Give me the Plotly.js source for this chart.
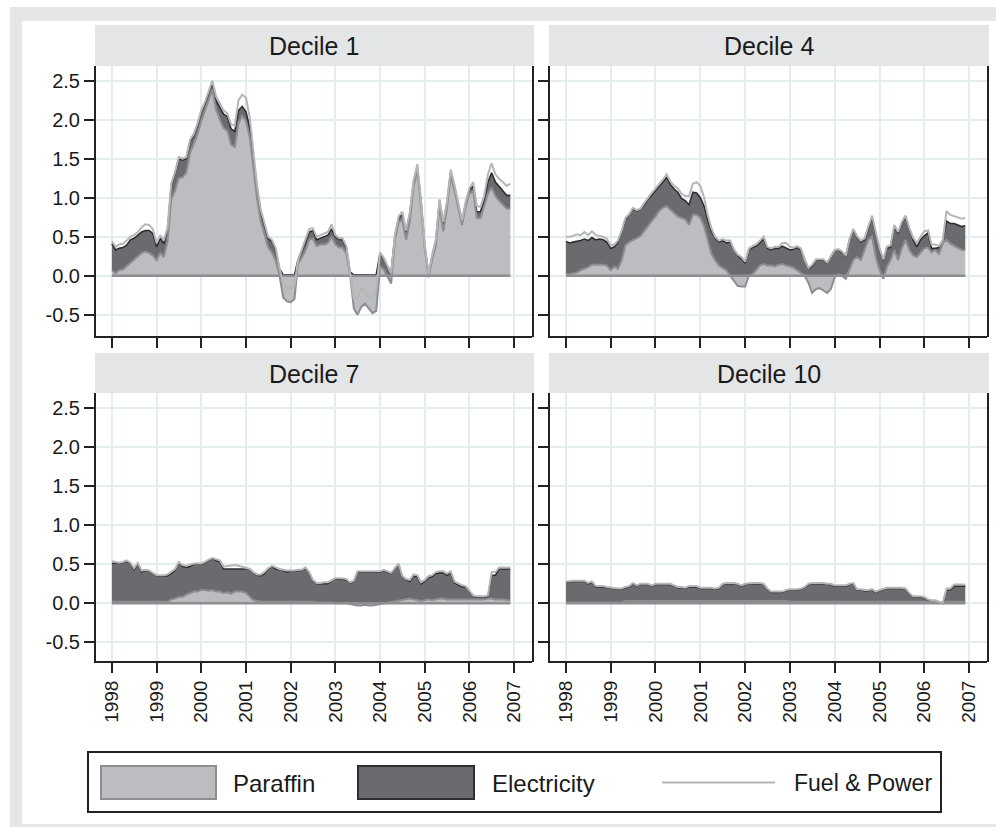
<!DOCTYPE html>
<html>
<head>
<meta charset="utf-8">
<script src="https://cdn.plot.ly/plotly-3.0.1.min.js"></script>
<style>html,body{margin:0;padding:0;background:#fff;}#chart{width:996px;height:827px;}</style>
</head>
<body>
<div id="chart"></div>
<script>
// ---------------- DATA (monthly, Jan 1998 - Dec 2006) ----------------
const START_YEAR = 1998;
const N_MONTHS = 108;
const panelTitles = ["Decile 1", "Decile 4", "Decile 7", "Decile 10"];
const yearTicks = ["1998","1999","2000","2001","2002","2003","2004","2005","2006","2007"];
const yTickVals = [-0.5, 0, 0.5, 1, 1.5, 2, 2.5];
const yTickText = ["-0.5","0.0","0.5","1.0","1.5","2.0","2.5"];
const seriesNames = ["Paraffin", "Electricity", "Fuel & Power"];

const paraffinD1 = [0.07,0.03,0.07,0.08,0.12,0.16,0.20,0.24,0.29,0.31,0.29,0.26,
 0.20,0.29,0.24,0.44,0.98,1.09,1.25,1.26,1.32,1.57,1.68,1.81,
 1.98,2.11,2.25,2.39,2.13,2.00,1.89,1.86,1.68,1.65,1.96,2.05,
 1.98,1.77,1.37,0.99,0.70,0.53,0.36,0.30,0.19,0.01,-0.28,-0.33,
 -0.34,-0.30,0.15,0.23,0.32,0.46,0.48,0.38,0.40,0.40,0.42,0.50,
 0.40,0.36,0.36,0.28,0.02,-0.42,-0.50,-0.40,-0.36,-0.42,-0.48,-0.45,
 0.12,0.08,0.00,-0.10,0.45,0.68,0.72,0.46,0.70,1.14,1.35,0.90,
 0.34,-0.02,0.20,0.39,0.88,0.57,0.87,1.28,1.09,0.89,0.65,0.89,
 1.05,1.09,0.74,0.74,0.89,1.05,1.13,1.02,0.96,0.91,0.86,0.86];
const electricityD1 = [0.34,0.30,0.28,0.28,0.27,0.30,0.28,0.28,0.27,0.27,0.29,0.28,
 0.17,0.19,0.17,0.15,0.18,0.22,0.25,0.22,0.18,0.15,0.12,0.12,
 0.12,0.10,0.09,0.08,0.12,0.15,0.18,0.18,0.20,0.20,0.16,0.12,
 0.12,0.12,0.13,0.13,0.12,0.12,0.12,0.14,0.14,0.08,0.01,0.01,
 0.01,0.01,0.05,0.08,0.10,0.10,0.10,0.08,0.08,0.10,0.10,0.10,
 0.10,0.10,0.10,0.08,0.03,0.01,0.01,0.01,0.01,0.01,0.01,0.01,
 0.17,0.14,0.12,0.05,0.05,0.06,0.08,0.10,0.10,0.06,0.05,0.05,
 0.04,0.02,0.04,0.06,0.08,0.10,0.06,0.05,0.05,0.04,0.04,0.04,
 0.05,0.06,0.08,0.08,0.08,0.15,0.19,0.18,0.18,0.17,0.17,0.17];
const fuelPowerD1 = [0.44,0.37,0.40,0.41,0.45,0.50,0.52,0.56,0.62,0.66,0.65,0.60,
 0.42,0.52,0.45,0.62,1.18,1.33,1.52,1.50,1.52,1.74,1.82,1.95,
 2.12,2.23,2.36,2.50,2.30,2.20,2.12,2.08,1.94,1.92,2.25,2.32,
 2.28,2.02,1.58,1.16,0.85,0.67,0.50,0.46,0.35,0.10,-0.10,-0.16,
 -0.17,-0.14,0.20,0.33,0.45,0.60,0.61,0.50,0.52,0.54,0.56,0.66,
 0.52,0.48,0.48,0.38,0.05,-0.30,-0.28,-0.16,-0.20,-0.28,-0.29,-0.20,
 0.30,0.23,0.13,0.03,0.52,0.76,0.82,0.58,0.82,1.22,1.43,0.97,
 0.40,0.02,0.26,0.47,0.98,0.69,0.95,1.36,1.16,0.95,0.71,0.95,
 1.12,1.20,0.90,0.88,1.02,1.30,1.44,1.30,1.24,1.20,1.15,1.18];

const paraffinD4 = [0.02,0.02,0.03,0.04,0.07,0.09,0.11,0.14,0.14,0.14,0.14,0.13,
 0.07,0.12,0.09,0.20,0.39,0.43,0.46,0.48,0.51,0.57,0.63,0.70,
 0.76,0.83,0.87,0.89,0.85,0.80,0.76,0.74,0.72,0.65,0.78,0.78,
 0.74,0.63,0.46,0.28,0.20,0.13,0.10,0.07,0.00,-0.07,-0.13,-0.14,
 -0.14,0.00,0.02,0.07,0.13,0.15,0.13,0.13,0.12,0.14,0.15,0.13,
 0.12,0.10,0.07,0.04,0.00,-0.09,-0.22,-0.17,-0.16,-0.19,-0.22,-0.17,
 -0.02,0.02,0.00,-0.04,0.09,0.20,0.24,0.20,0.33,0.46,0.50,0.24,
 0.07,-0.04,0.11,0.20,0.33,0.20,0.35,0.46,0.33,0.26,0.24,0.30,
 0.35,0.36,0.30,0.33,0.28,0.42,0.46,0.41,0.38,0.35,0.33,0.33];
const electricityD4 = [0.42,0.40,0.40,0.40,0.38,0.38,0.34,0.35,0.32,0.33,0.32,0.30,
 0.28,0.25,0.34,0.37,0.33,0.35,0.40,0.35,0.34,0.34,0.35,0.33,
 0.33,0.31,0.33,0.37,0.32,0.31,0.31,0.25,0.24,0.26,0.29,0.28,
 0.26,0.26,0.26,0.29,0.28,0.30,0.35,0.35,0.43,0.33,0.26,0.22,
 0.16,0.33,0.34,0.31,0.29,0.32,0.22,0.20,0.23,0.21,0.23,0.23,
 0.21,0.24,0.29,0.29,0.20,0.09,0.12,0.20,0.20,0.20,0.16,0.24,
 0.33,0.31,0.30,0.26,0.37,0.39,0.26,0.23,0.13,0.15,0.25,0.30,
 0.26,0.20,0.24,0.17,0.30,0.34,0.32,0.29,0.26,0.20,0.13,0.16,
 0.16,0.19,0.05,0.02,0.08,0.04,0.24,0.26,0.29,0.30,0.30,0.31];
const fuelPowerD4 = [0.50,0.50,0.51,0.53,0.52,0.56,0.52,0.57,0.52,0.51,0.50,0.47,
 0.39,0.40,0.45,0.58,0.74,0.79,0.87,0.84,0.86,0.93,1.00,1.06,
 1.12,1.17,1.23,1.30,1.21,1.15,1.12,1.05,1.02,1.02,1.18,1.20,
 1.15,1.00,0.78,0.61,0.50,0.45,0.47,0.45,0.45,0.34,0.27,0.24,
 0.18,0.35,0.38,0.40,0.45,0.50,0.37,0.35,0.37,0.37,0.42,0.42,
 0.37,0.36,0.38,0.35,0.21,0.10,0.14,0.21,0.21,0.21,0.17,0.25,
 0.33,0.34,0.31,0.26,0.47,0.60,0.51,0.45,0.48,0.63,0.77,0.56,
 0.35,0.21,0.37,0.39,0.65,0.56,0.69,0.77,0.61,0.49,0.42,0.50,
 0.57,0.58,0.40,0.40,0.38,0.46,0.83,0.78,0.76,0.75,0.73,0.74];

const paraffinD7 = [0.02,0.02,0.02,0.02,0.02,0.02,0.02,0.02,0.02,0.02,0.02,0.02,
 0.02,0.02,0.02,0.02,0.05,0.06,0.08,0.08,0.11,0.13,0.15,0.15,
 0.17,0.17,0.16,0.17,0.15,0.15,0.13,0.14,0.12,0.15,0.15,0.15,
 0.13,0.08,0.04,0.03,0.02,0.02,0.02,0.02,0.02,0.02,0.02,0.02,
 0.02,0.02,0.02,0.02,0.02,0.02,0.02,0.01,0.01,0.01,0.01,0.01,
 0.00,0.00,0.00,0.00,-0.01,-0.02,-0.03,-0.03,-0.02,-0.03,-0.03,-0.02,
 -0.01,0.00,0.01,0.02,0.03,0.04,0.04,0.05,0.06,0.05,0.04,0.03,
 0.04,0.05,0.04,0.05,0.06,0.06,0.05,0.05,0.05,0.05,0.05,0.05,
 0.05,0.05,0.05,0.05,0.05,0.06,0.06,0.05,0.05,0.05,0.04,0.04];
const electricityD7 = [0.49,0.50,0.49,0.50,0.52,0.49,0.41,0.49,0.38,0.40,0.39,0.36,
 0.33,0.33,0.33,0.33,0.33,0.36,0.44,0.39,0.35,0.34,0.35,0.35,
 0.33,0.35,0.39,0.40,0.40,0.38,0.31,0.30,0.32,0.29,0.29,0.29,
 0.31,0.35,0.35,0.33,0.33,0.36,0.42,0.45,0.42,0.41,0.40,0.38,
 0.39,0.39,0.40,0.40,0.43,0.37,0.27,0.24,0.24,0.24,0.24,0.28,
 0.31,0.31,0.31,0.30,0.26,0.28,0.40,0.40,0.40,0.40,0.40,0.40,
 0.40,0.42,0.39,0.36,0.41,0.46,0.30,0.25,0.22,0.30,0.30,0.22,
 0.24,0.28,0.30,0.33,0.33,0.33,0.31,0.34,0.21,0.18,0.16,0.16,
 0.10,0.04,0.03,0.03,0.03,0.02,0.30,0.31,0.39,0.39,0.40,0.40];
const fuelPowerD7 = [0.54,0.53,0.52,0.53,0.55,0.52,0.45,0.52,0.42,0.43,0.42,0.39,
 0.36,0.36,0.36,0.37,0.40,0.44,0.53,0.49,0.48,0.49,0.51,0.51,
 0.51,0.53,0.56,0.58,0.57,0.55,0.47,0.48,0.49,0.49,0.48,0.47,
 0.45,0.44,0.40,0.37,0.37,0.40,0.45,0.48,0.46,0.44,0.43,0.42,
 0.42,0.42,0.43,0.43,0.46,0.40,0.30,0.26,0.26,0.27,0.27,0.30,
 0.32,0.32,0.32,0.31,0.27,0.29,0.41,0.41,0.41,0.41,0.41,0.41,
 0.41,0.43,0.41,0.39,0.45,0.51,0.35,0.31,0.30,0.37,0.36,0.27,
 0.30,0.35,0.36,0.40,0.41,0.41,0.38,0.41,0.28,0.25,0.23,0.22,
 0.16,0.10,0.09,0.09,0.09,0.10,0.40,0.40,0.46,0.46,0.46,0.46];

const paraffinD10 = [0.01,0.01,0.01,0.01,0.01,0.01,0.01,0.01,0.01,0.01,0.01,0.01,
 0.01,0.01,0.01,0.01,0.03,0.03,0.03,0.03,0.03,0.03,0.03,0.03,
 0.03,0.03,0.03,0.03,0.03,0.03,0.03,0.03,0.03,0.03,0.03,0.03,
 0.03,0.03,0.03,0.03,0.03,0.03,0.03,0.03,0.03,0.03,0.03,0.03,
 0.03,0.03,0.03,0.03,0.03,0.03,0.03,0.03,0.03,0.03,0.03,0.03,
 0.02,0.02,0.02,0.02,0.02,0.02,0.02,0.02,0.02,0.02,0.02,0.02,
 0.02,0.02,0.02,0.02,0.02,0.02,0.02,0.02,0.02,0.02,0.02,0.02,
 0.02,0.02,0.02,0.02,0.02,0.02,0.02,0.02,0.02,0.02,0.02,0.02,
 0.02,0.02,0.02,0.02,0.01,0.00,0.02,0.02,0.02,0.02,0.02,0.02];
const electricityD10 = [0.26,0.27,0.27,0.27,0.27,0.27,0.24,0.26,0.20,0.20,0.20,0.19,
 0.18,0.17,0.17,0.17,0.17,0.18,0.22,0.19,0.21,0.21,0.21,0.19,
 0.21,0.21,0.21,0.21,0.21,0.19,0.17,0.17,0.16,0.18,0.18,0.18,
 0.16,0.16,0.16,0.16,0.15,0.16,0.21,0.22,0.22,0.22,0.21,0.19,
 0.21,0.22,0.22,0.22,0.22,0.21,0.15,0.11,0.11,0.11,0.11,0.13,
 0.15,0.15,0.15,0.16,0.18,0.22,0.23,0.23,0.23,0.23,0.22,0.22,
 0.20,0.20,0.20,0.20,0.22,0.23,0.15,0.15,0.14,0.14,0.15,0.12,
 0.14,0.16,0.17,0.17,0.17,0.17,0.17,0.16,0.10,0.06,0.06,0.06,
 0.05,0.02,0.01,0.01,0.00,0.00,0.15,0.15,0.20,0.20,0.20,0.20];
const fuelPowerD10 = [0.28,0.29,0.29,0.29,0.29,0.29,0.26,0.28,0.22,0.22,0.22,0.21,
 0.20,0.19,0.19,0.19,0.21,0.22,0.26,0.23,0.25,0.25,0.25,0.23,
 0.25,0.25,0.25,0.25,0.25,0.23,0.21,0.21,0.20,0.22,0.22,0.22,
 0.20,0.20,0.20,0.20,0.19,0.20,0.25,0.26,0.26,0.26,0.25,0.23,
 0.25,0.26,0.26,0.26,0.26,0.25,0.19,0.15,0.15,0.15,0.15,0.17,
 0.18,0.18,0.18,0.19,0.21,0.25,0.26,0.26,0.26,0.26,0.25,0.25,
 0.23,0.23,0.23,0.23,0.25,0.26,0.18,0.18,0.17,0.17,0.18,0.15,
 0.17,0.19,0.20,0.20,0.20,0.20,0.20,0.19,0.13,0.09,0.09,0.09,
 0.08,0.05,0.04,0.04,0.02,0.01,0.19,0.19,0.24,0.24,0.24,0.24];

// ---------------- STYLE ----------------
const W = 996, H = 827;
const FONT = "Liberation Sans, Arial, Helvetica, sans-serif";
const TXT = "#1a1a1a";
const PAR_FILL = "#bcbdc0", PAR_LINE = "#8d8e91";
const ELE_FILL = "#6a6b6f", ELE_LINE = "#2e2e30";
const FP_LINE = "#b6b6b6";
const GRID = "#e5ecec";
const AXC = "#222222";
const STRIP = "#e4e5e7";
const FRAME = "#e5e6e8";

const X = p => p / W;
const Y = p => 1 - p / H;

const months = Array.from({length: N_MONTHS}, (_, i) =>
  `${START_YEAR + Math.floor(i / 12)}-${String(i % 12 + 1).padStart(2, "0")}-01`);
const yearDates = yearTicks.map(y => `${y}-01-01`);

const panels = [
  {par: paraffinD1, ele: electricityD1, fp: fuelPowerD1, xs: [96, 532], ys: [66, 336], strip: [25, 66], yr: [-0.773, 2.688], showX: false, showY: true},
  {par: paraffinD4, ele: electricityD4, fp: fuelPowerD4, xs: [550, 987], ys: [66, 336], strip: [25, 66], yr: [-0.773, 2.688], showX: false, showY: false},
  {par: paraffinD7, ele: electricityD7, fp: fuelPowerD7, xs: [96, 532], ys: [393, 661], strip: [353, 393], yr: [-0.74, 2.696], showX: true, showY: true},
  {par: paraffinD10, ele: electricityD10, fp: fuelPowerD10, xs: [550, 987], ys: [393, 661], strip: [353, 393], yr: [-0.74, 2.696], showX: true, showY: false}
];

const traces = [];
const layout = {
  width: W, height: H,
  margin: {l: 0, r: 0, t: 0, b: 0},
  paper_bgcolor: "#ffffff",
  plot_bgcolor: "#ffffff",
  showlegend: false,
  font: {family: FONT, color: TXT},
  shapes: [],
  annotations: []
};

// outer frame bands
layout.shapes.push(
  {type: "rect", xref: "paper", yref: "paper", x0: X(10), x1: 1, y0: Y(21), y1: Y(7), fillcolor: FRAME, line: {width: 0}, layer: "below"},
  {type: "rect", xref: "paper", yref: "paper", x0: X(10), x1: X(22), y0: 0, y1: Y(7), fillcolor: FRAME, line: {width: 0}, layer: "below"},
  {type: "rect", xref: "paper", yref: "paper", x0: X(10), x1: 1, y0: 0, y1: Y(824), fillcolor: FRAME, line: {width: 0}, layer: "below"}
);

panels.forEach((p, i) => {
  const n = i === 0 ? "" : String(i + 1);
  const xa = "x" + n, ya = "y" + n;
  const base = p.par.map(v => Math.max(v, 0));
  const top = base.map((b, k) => b + p.ele[k]);
  const zero = months.map(() => 0);

  traces.push({x: months, y: base, xaxis: xa, yaxis: ya, mode: "lines", line: {width: 0, color: "rgba(0,0,0,0)"}, hoverinfo: "skip", showlegend: false});
  traces.push({x: months, y: top, xaxis: xa, yaxis: ya, mode: "lines", fill: "tonexty", fillcolor: ELE_FILL, line: {color: ELE_LINE, width: 1.6}, name: seriesNames[1]});
  traces.push({x: months, y: p.par, xaxis: xa, yaxis: ya, mode: "lines", fill: "tozeroy", fillcolor: PAR_FILL, line: {color: PAR_LINE, width: 2}, name: seriesNames[0]});
  traces.push({x: months, y: zero, xaxis: xa, yaxis: ya, mode: "lines", line: {color: PAR_LINE, width: 2.4}, hoverinfo: "skip", showlegend: false});
  traces.push({x: months, y: p.fp, xaxis: xa, yaxis: ya, mode: "lines", line: {color: FP_LINE, width: 2}, name: seriesNames[2]});

  layout["xaxis" + n] = {
    domain: [X(p.xs[0]), X(p.xs[1])], anchor: ya, type: "date",
    range: ["1997-08-24", "2007-05-27"],
    tickmode: "array", tickvals: yearDates, ticktext: yearTicks,
    showticklabels: p.showX, tickangle: -90,
    tickfont: {size: 19, color: TXT, family: FONT},
    ticks: "outside", ticklen: 10, tickwidth: 2, tickcolor: AXC,
    showline: true, linecolor: AXC, linewidth: 2,
    showgrid: true, gridcolor: GRID, gridwidth: 2, zeroline: false, fixedrange: true
  };
  layout["yaxis" + n] = {
    domain: [Y(p.ys[1]), Y(p.ys[0])], anchor: xa, range: p.yr,
    tickmode: "array", tickvals: yTickVals, ticktext: yTickText,
    showticklabels: p.showY,
    tickfont: {size: 20, color: TXT, family: FONT},
    ticks: "outside", ticklen: 10, tickwidth: 2, tickcolor: AXC,
    showline: true, linecolor: AXC, linewidth: 2,
    showgrid: true, gridcolor: GRID, gridwidth: 2, zeroline: false, fixedrange: true
  };

  // right border of panel
  layout.shapes.push({type: "line", xref: "paper", yref: "paper", x0: X(p.xs[1] + 1), x1: X(p.xs[1] + 1), y0: Y(p.ys[1] + 1), y1: Y(p.ys[0]), line: {color: AXC, width: 2}});
  // strip
  layout.shapes.push({type: "rect", xref: "paper", yref: "paper", x0: X(p.xs[0] - 1), x1: X(p.xs[1] + 2), y0: Y(p.strip[1]), y1: Y(p.strip[0]), fillcolor: STRIP, line: {width: 0}});
  layout.annotations.push({xref: "paper", yref: "paper", x: X((p.xs[0] + p.xs[1]) / 2), y: Y((p.strip[0] + p.strip[1]) / 2 + 1), text: panelTitles[i], showarrow: false, xanchor: "center", yanchor: "middle", font: {size: 25, color: TXT, family: FONT}});
});

// legend (drawn manually)
const LG = {x0: 88, x1: 941, y0: 752, y1: 812, ky0: 766, ky1: 799};
layout.shapes.push(
  {type: "rect", xref: "paper", yref: "paper", x0: X(LG.x0), x1: X(LG.x1), y0: Y(LG.y1), y1: Y(LG.y0), fillcolor: "#ffffff", line: {color: AXC, width: 2}},
  {type: "rect", xref: "paper", yref: "paper", x0: X(101), x1: X(216), y0: Y(LG.ky1), y1: Y(LG.ky0), fillcolor: PAR_FILL, line: {color: PAR_LINE, width: 2}},
  {type: "rect", xref: "paper", yref: "paper", x0: X(358), x1: X(474), y0: Y(LG.ky1), y1: Y(LG.ky0), fillcolor: ELE_FILL, line: {color: ELE_LINE, width: 2}},
  {type: "line", xref: "paper", yref: "paper", x0: X(662), x1: X(775), y0: Y(782.5), y1: Y(782.5), line: {color: FP_LINE, width: 2}}
);
[[seriesNames[0], 231, 24], [seriesNames[1], 490, 24], [seriesNames[2], 792, 23]].forEach(([t, px, fs]) => {
  layout.annotations.push({xref: "paper", yref: "paper", x: X(px), y: Y(783), text: t, showarrow: false, xanchor: "left", yanchor: "middle", font: {size: fs, color: TXT, family: FONT}});
});

Plotly.newPlot("chart", traces, layout, {displayModeBar: false, staticPlot: true});
</script>
</body>
</html>
